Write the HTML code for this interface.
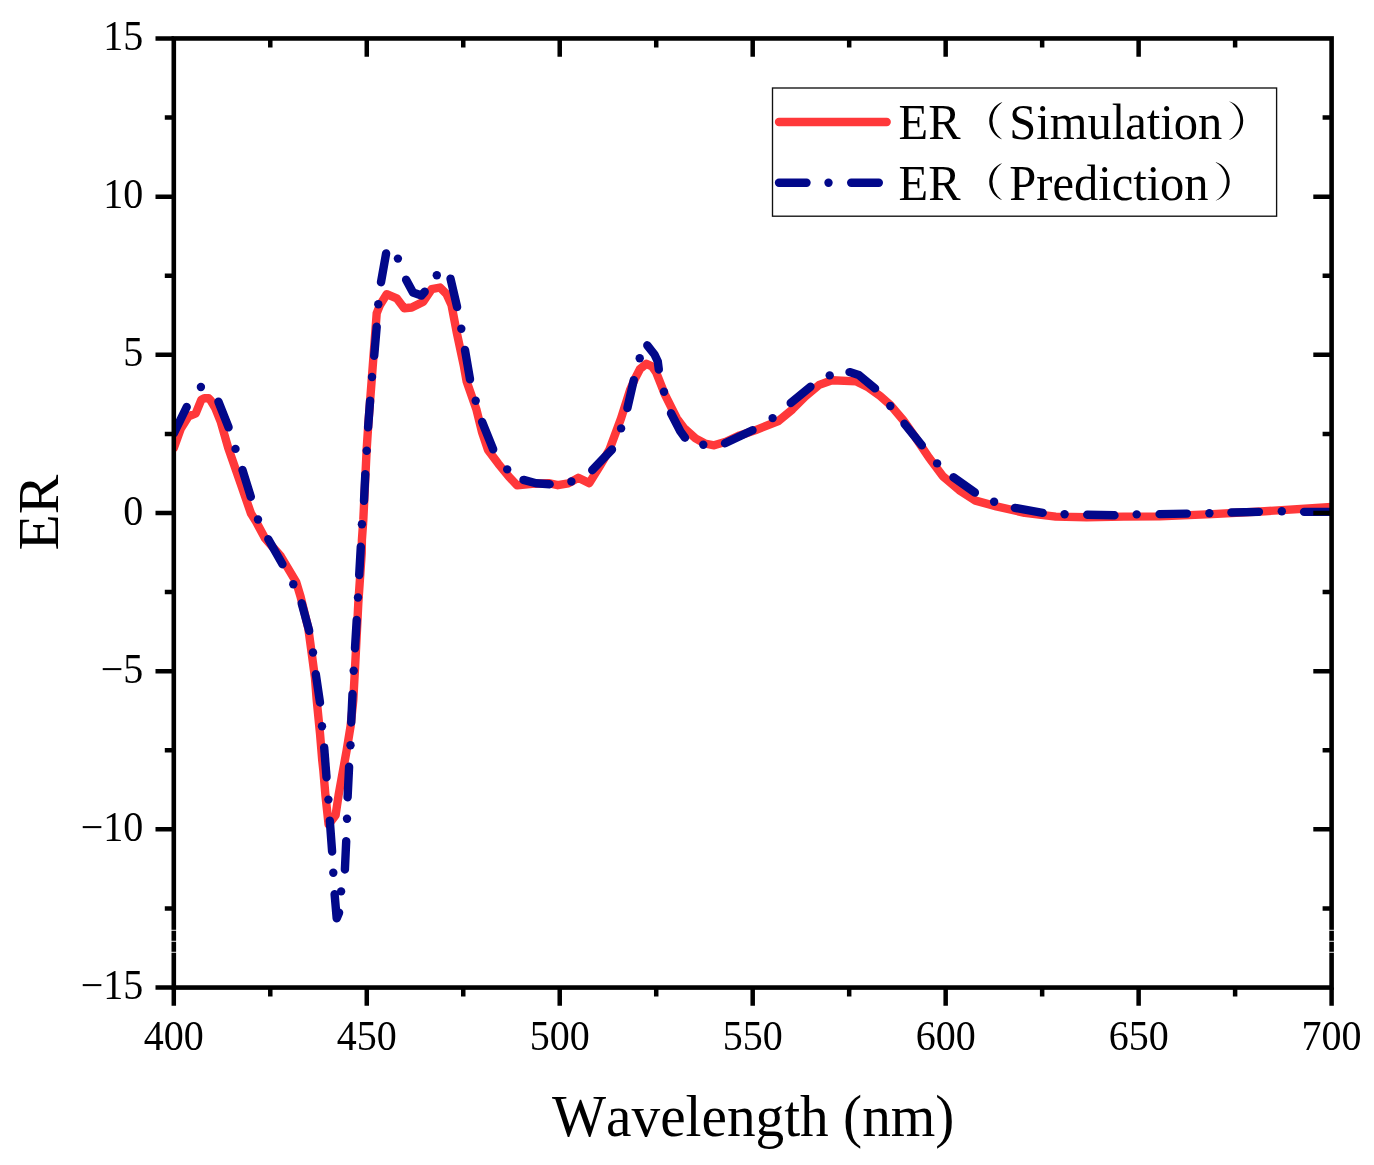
<!DOCTYPE html><html><head><meta charset="utf-8"><style>html,body{margin:0;padding:0;background:#fff;}svg{display:block;will-change:transform;}</style></head><body>
<svg width="1374" height="1165" viewBox="0 0 1374 1165" font-family="'Liberation Serif', serif">
<rect width="1374" height="1165" fill="#fff"/>
<defs><clipPath id="c"><rect x="173.8" y="38.45" width="1157.8" height="949.1"/></clipPath></defs>
<g clip-path="url(#c)">
<polyline points="173.8,448 180.9,428.4 188.6,416.3 195.8,413.3 201.3,399.7 204.2,398.3 208.6,398.3 210.8,400.5 215.1,407.8 220.9,422.3 228.2,447.8 241.7,486.7 251,513.5 256,521.5 265,538.3 280.7,556.1 296.1,581.8 300.6,596.7 308.3,628.3 311.7,653.3 315,678.3 316.7,700 320,733.3 322.2,760 323.3,770 325.4,795 328.6,824.5 335.6,815.2 338.6,795 346.7,750.1 350.6,726 353.3,700 355.8,653.3 358.3,603.3 361.7,553.3 361.9,540 363.3,520 366.7,448.7 368.3,424.2 371.7,380 374.2,346.7 376.7,313.3 380,305 386.7,294.2 396.7,298.3 404.2,308.3 411.7,307.5 423.3,301.7 431.7,289.2 440,287.5 446.5,294 451.5,305 456.9,333.3 464,366.7 466.7,381.7 476.3,409.1 482.1,432.4 488,449.9 498.4,463.8 508.9,476.7 517.1,485.4 532.2,483.8 548.5,483.2 557.8,485.2 568.3,483.3 578.2,477.8 589.3,483.1 599.7,466.2 609.3,450 621,418.5 630.3,389.4 634.9,378.9 640,369 646.4,363.8 652,366.3 656,372 665.2,395.2 676.9,418.5 683.8,427.8 695.5,438.3 704.8,443.5 714.1,445.3 725.8,441.8 739.7,435.4 755.1,430.3 778.4,421 792.4,409.4 805.2,396.6 819.2,384.9 832,380.3 856.4,381.4 868.1,387.3 880,395.8 890.5,405.1 903.3,420.3 914.9,436.6 928.9,457.5 942.9,476.2 959.2,490.1 975.5,500.6 996.4,506.4 1024.7,512.8 1055.7,516.6 1086.6,517.2 1123.7,516.6 1160,516.4 1212.4,514.1 1264.8,511.2 1331.6,507" fill="none" stroke="rgb(255,56,58)" stroke-width="8.4" stroke-linejoin="round" stroke-linecap="round"/>
<g fill="none" stroke="rgb(2,8,138)" stroke-width="8.4" stroke-linejoin="round" stroke-linecap="round"><polyline points="173.8,433.5 186.7,407"/><circle cx="200.9" cy="387" r="4.2" stroke="none" fill="rgb(2,8,138)"/><polyline points="218.4,401.6 228.6,427.4"/><circle cx="235.5" cy="448.9" r="4.2" stroke="none" fill="rgb(2,8,138)"/><polyline points="242.5,470 250.8,496.7"/><circle cx="258" cy="519.5" r="4.2" stroke="none" fill="rgb(2,8,138)"/><polyline points="268.3,539.2 282.5,564.2"/><circle cx="293.3" cy="584.2" r="4.2" stroke="none" fill="rgb(2,8,138)"/><polyline points="301.7,603.3 309.2,630.8"/><circle cx="313" cy="652.5" r="4.2" stroke="none" fill="rgb(2,8,138)"/><polyline points="315.8,674.2 320,702.5"/><circle cx="322" cy="726.3" r="4.2" stroke="none" fill="rgb(2,8,138)"/><polyline points="324.2,747.5 326.5,777.3"/><circle cx="328.4" cy="799.6" r="4.2" stroke="none" fill="rgb(2,8,138)"/><polyline points="329.8,820.6 332.1,851.5"/><circle cx="333.3" cy="872.7" r="4.2" stroke="none" fill="rgb(2,8,138)"/><polyline points="334.6,894.2 336.7,918.4 339.1,912.6"/><circle cx="341.1" cy="891.4" r="4.2" stroke="none" fill="rgb(2,8,138)"/><polyline points="344.9,869.5 346.2,841.2"/><circle cx="347" cy="818.7" r="4.2" stroke="none" fill="rgb(2,8,138)"/><polyline points="347.6,797.3 349.1,766.8"/><circle cx="350.5" cy="745.3" r="4.2" stroke="none" fill="rgb(2,8,138)"/><polyline points="351.2,722.5 352.5,694"/><circle cx="353.7" cy="670.8" r="4.2" stroke="none" fill="rgb(2,8,138)"/><polyline points="355,648.3 356.7,620"/><circle cx="358" cy="597.5" r="4.2" stroke="none" fill="rgb(2,8,138)"/><polyline points="359.2,575 360.8,546.7"/><circle cx="361.9" cy="524.2" r="4.2" stroke="none" fill="rgb(2,8,138)"/><polyline points="364,500.9 365.3,474.1"/><circle cx="366.7" cy="450.7" r="4.2" stroke="none" fill="rgb(2,8,138)"/><polyline points="368.1,427.4 370.1,400.6"/><circle cx="372" cy="377" r="4.2" stroke="none" fill="rgb(2,8,138)"/><polyline points="374.2,355.8 376.7,326.7"/><circle cx="378.3" cy="304.2" r="4.2" stroke="none" fill="rgb(2,8,138)"/><polyline points="381,282.2 386.1,253.5"/><circle cx="397.9" cy="258.6" r="4.2" stroke="none" fill="rgb(2,8,138)"/><polyline points="406.1,279.7 413,292.5 421.5,295.5 424.7,291.7"/><circle cx="436.8" cy="275.3" r="4.2" stroke="none" fill="rgb(2,8,138)"/><polyline points="450.5,278.6 457.1,307"/><circle cx="461.3" cy="328.7" r="4.2" stroke="none" fill="rgb(2,8,138)"/><polyline points="465,350 470,379.2"/><circle cx="475.7" cy="400.7" r="4.2" stroke="none" fill="rgb(2,8,138)"/><polyline points="482.1,421.9 493.2,449.3"/><circle cx="507.2" cy="469.4" r="4.2" stroke="none" fill="rgb(2,8,138)"/><polyline points="523.5,479.9 536,483.3 549.7,484.2"/><circle cx="571.4" cy="481.5" r="4.2" stroke="none" fill="rgb(2,8,138)"/><polyline points="592.2,470.2 612,449.5"/><circle cx="621.1" cy="428.4" r="4.2" stroke="none" fill="rgb(2,8,138)"/><polyline points="627.4,408 633.8,380.1"/><circle cx="639.7" cy="358.3" r="4.2" stroke="none" fill="rgb(2,8,138)"/><polyline points="647.3,345.3 654.5,354.5 657.8,361.5 658.8,369.5"/><circle cx="664" cy="391.7" r="4.2" stroke="none" fill="rgb(2,8,138)"/><polyline points="671,413.3 680.3,431.3 685,437.7"/><circle cx="703.3" cy="444.7" r="4.2" stroke="none" fill="rgb(2,8,138)"/><polyline points="725,443.3 752.5,430.3"/><circle cx="772.6" cy="418.1" r="4.2" stroke="none" fill="rgb(2,8,138)"/><polyline points="790.7,403 810.5,386.7"/><circle cx="829.7" cy="375.4" r="4.2" stroke="none" fill="rgb(2,8,138)"/><polyline points="849.5,372.1 858.8,375 875.1,388.4"/><circle cx="890.3" cy="406" r="4.2" stroke="none" fill="rgb(2,8,138)"/><polyline points="904.5,423.8 921.9,445.3"/><circle cx="937.1" cy="463.4" r="4.2" stroke="none" fill="rgb(2,8,138)"/><polyline points="953.4,477.3 974.9,492.5"/><circle cx="994.1" cy="501.8" r="4.2" stroke="none" fill="rgb(2,8,138)"/><polyline points="1014.9,507.9 1042.7,512.8"/><circle cx="1064.6" cy="514.3" r="4.2" stroke="none" fill="rgb(2,8,138)"/><polyline points="1087.2,514.7 1114.5,515.3"/><circle cx="1136.7" cy="514.4" r="4.2" stroke="none" fill="rgb(2,8,138)"/><polyline points="1159.6,514.1 1186.9,513.6"/><circle cx="1209.4" cy="513.2" r="4.2" stroke="none" fill="rgb(2,8,138)"/><polyline points="1231.4,512.5 1258.9,511.9"/><circle cx="1281.8" cy="511.2" r="4.2" stroke="none" fill="rgb(2,8,138)"/><polyline points="1304.1,511.9 1331.6,511.9"/></g>
</g>
<rect x="173.8" y="38.45" width="1157.8" height="949.1" fill="none" stroke="#000" stroke-width="4.6"/>
<path d="M155.5 38.45H173.8M155.5 196.63H173.8M1313.3 196.63H1331.6M155.5 354.82H173.8M1313.3 354.82H1331.6M155.5 513H173.8M1313.3 513H1331.6M155.5 671.18H173.8M1313.3 671.18H1331.6M155.5 829.37H173.8M1313.3 829.37H1331.6M155.5 987.55H173.8M164.8 117.54H173.8M1322.6 117.54H1331.6M164.8 275.73H173.8M1322.6 275.73H1331.6M164.8 433.91H173.8M1322.6 433.91H1331.6M164.8 592.09H173.8M1322.6 592.09H1331.6M164.8 750.27H173.8M1322.6 750.27H1331.6M164.8 908.46H173.8M1322.6 908.46H1331.6M173.8 987.55V1005.85M366.77 987.55V1005.85M366.77 38.45V56.75M559.73 987.55V1005.85M559.73 38.45V56.75M752.7 987.55V1005.85M752.7 38.45V56.75M945.67 987.55V1005.85M945.67 38.45V56.75M1138.63 987.55V1005.85M1138.63 38.45V56.75M1331.6 987.55V1005.85M270.28 987.55V996.55M270.28 38.45V47.45M463.25 987.55V996.55M463.25 38.45V47.45M656.22 987.55V996.55M656.22 38.45V47.45M849.18 987.55V996.55M849.18 38.45V47.45M1042.15 987.55V996.55M1042.15 38.45V47.45M1235.12 987.55V996.55M1235.12 38.45V47.45" stroke="#000" stroke-width="4.5" fill="none"/>
<g font-size="40" fill="#000"><text transform="translate(143.3 49.95) scale(1 1.03)" text-anchor="end">15</text><text transform="translate(143.3 208.13) scale(1 1.03)" text-anchor="end">10</text><text transform="translate(143.3 366.32) scale(1 1.03)" text-anchor="end">5</text><text transform="translate(143.3 524.5) scale(1 1.03)" text-anchor="end">0</text><text transform="translate(143.3 682.68) scale(1 1.03)" text-anchor="end">−5</text><text transform="translate(143.3 840.87) scale(1 1.03)" text-anchor="end">−10</text><text transform="translate(143.3 999.05) scale(1 1.03)" text-anchor="end">−15</text><text transform="translate(173.8 1049.5) scale(1 1.03)" text-anchor="middle">400</text><text transform="translate(366.77 1049.5) scale(1 1.03)" text-anchor="middle">450</text><text transform="translate(559.73 1049.5) scale(1 1.03)" text-anchor="middle">500</text><text transform="translate(752.7 1049.5) scale(1 1.03)" text-anchor="middle">550</text><text transform="translate(945.67 1049.5) scale(1 1.03)" text-anchor="middle">600</text><text transform="translate(1138.63 1049.5) scale(1 1.03)" text-anchor="middle">650</text><text transform="translate(1331.6 1049.5) scale(1 1.03)" text-anchor="middle">700</text></g>
<text transform="translate(552 1135.5) scale(1 1.035)" font-size="57.3" style="font-kerning:none">Wavelength (nm)</text>
<text transform="translate(58.3 550.4) scale(1 1.035) rotate(-90)" font-size="57.3">ER</text>
<rect x="772.5" y="88" width="504.1" height="128.2" fill="none" stroke="#111" stroke-width="1.35"/>
<line x1="779" y1="122" x2="886.7" y2="122" stroke="rgb(255,56,58)" stroke-width="8.4" stroke-linecap="round"/>
<g stroke="rgb(2,8,138)" stroke-width="8.4" stroke-linecap="round"><line x1="779" y1="182.7" x2="806.5" y2="182.7"/><line x1="828.5" y1="182.7" x2="828.5" y2="182.7"/><line x1="851.2" y1="182.7" x2="878.8" y2="182.7"/></g>
<g font-size="48.5" fill="#000">
<text transform="translate(898.6 138.8) scale(1 1.04)">ER</text>
<text transform="translate(1009.3 138.8) scale(1 1.04)">Simulation</text>
<text transform="translate(898.6 199.6) scale(1 1.04)">ER</text>
<text transform="translate(1009.3 199.6) scale(1 1.04)">Prediction</text>
</g>
<path d="M1002.3 102.1A19.9 19.9 0 0 0 1002.3 139.5L1001.7 138.95A22.36 22.36 0 0 1 1001.7 102.65ZM1002.3 162.9A19.9 19.9 0 0 0 1002.3 200.3L1001.7 199.75A22.36 22.36 0 0 1 1001.7 163.45ZM1229.1 101.3A20.26 20.26 0 0 1 1229.1 139.9L1229.7 139.35A21.99 21.99 0 0 0 1229.7 101.85ZM1215.6 162.1A20.26 20.26 0 0 1 1215.6 200.7L1216.2 200.15A21.99 21.99 0 0 0 1216.2 162.65Z" fill="#000"/>
<g fill="#fff"><rect x="150" y="929.8" width="1200" height="0.9"/><rect x="150" y="940.8" width="1200" height="0.9"/><rect x="150" y="951.8" width="1200" height="0.9"/></g>
</svg></body></html>
